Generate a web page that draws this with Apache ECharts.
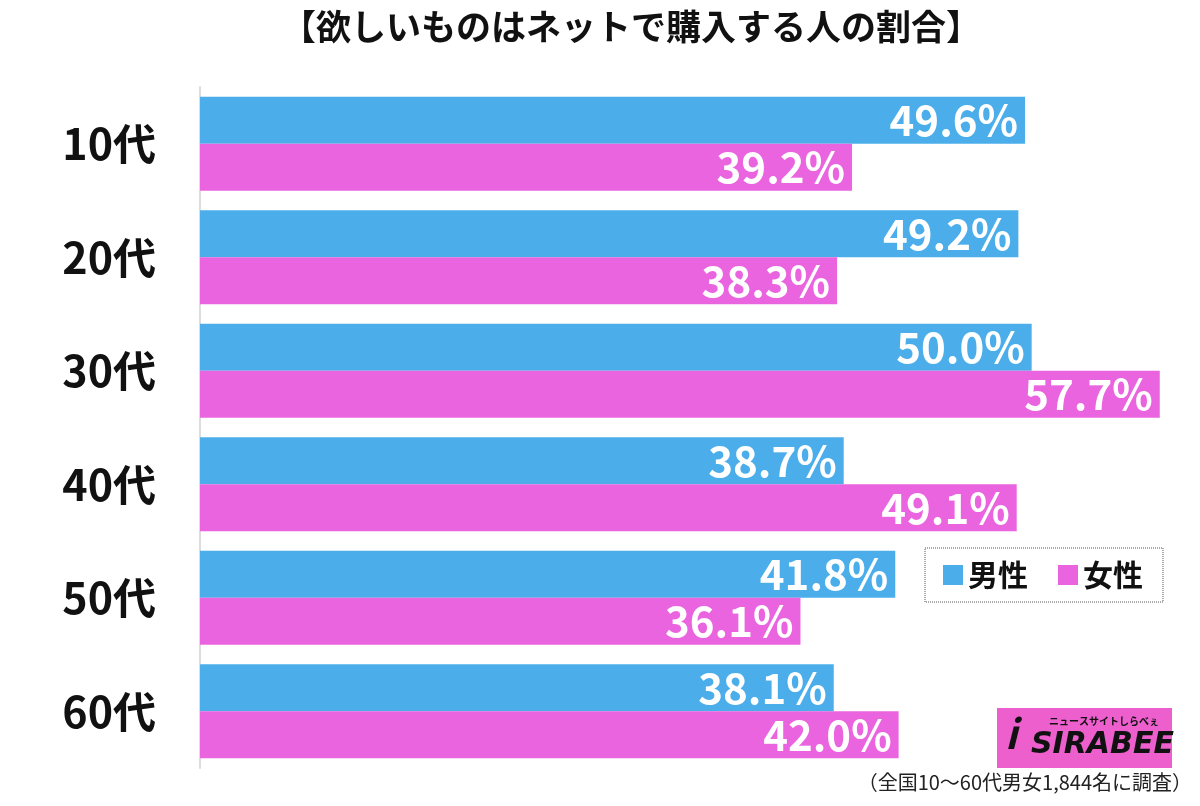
<!DOCTYPE html>
<html><head><meta charset="utf-8">
<script src="https://cdn.jsdelivr.net/npm/echarts@6/dist/echarts.min.js"></script>
<style>html,body{margin:0;padding:0;background:#fff}#c{width:1200px;height:806px}</style>
</head><body><div id="c"></div>
<script>
const categories = ['10代','20代','30代','40代','50代','60代'];
const male = [49.6, 49.2, 50.0, 38.7, 41.8, 38.1];
const female = [39.2, 38.3, 57.7, 49.1, 36.1, 42.0];
const seriesNames = ['男性','女性'];
const titleText = '【欲しいものはネットで購入する人の割合】';
const noteText = '（全国10〜60代男女1,844名に調査）';

const FONT = '"Noto Sans CJK JP", sans-serif';
const chart = echarts.init(document.getElementById('c'));
const lbl = {
  show: true, position: 'insideRight', distance: 7,
  color: '#fff', fontSize: 42, fontWeight: 'bold', fontFamily: FONT,
  formatter: p => p.value.toFixed(1) + '%'
};
chart.setOption({
  animation: false,
  title: {text: titleText, left: 276, top: 4,
    textStyle: {fontSize: 35, fontWeight: 'bold', color: '#111', fontFamily: FONT}},
  legend: {
    data: seriesNames, right: 37, top: 548, itemWidth: 20, itemHeight: 20, itemGap: 30,
    icon: 'rect',
    padding: [12, 20, 12, 18],
    borderColor: '#555', borderWidth: 1, borderType: 'dotted',
    textStyle: {fontSize: 30, fontWeight: 'bold', color: '#111', fontFamily: FONT}
  },
  grid: {left: 200, top: 87, width: 998, height: 681},
  xAxis: {type: 'value', min: 0, max: 60, show: false},
  yAxis: {type: 'category', data: categories, inverse: true,
    axisLine: {show: true, lineStyle: {color: '#ddd', width: 2}},
    axisTick: {show: false},
    axisLabel: {margin: 44, fontSize: 43, fontWeight: 'bold', color: '#111', fontFamily: FONT}},
  series: [
    {name: seriesNames[0], type: 'bar', data: male, barGap: '0%', barCategoryGap: '17%',
      itemStyle: {color: '#4baeea'}, label: lbl},
    {name: seriesNames[1], type: 'bar', data: female,
      itemStyle: {color: '#ea63df'}, label: lbl}
  ],
  graphic: [
    {type: 'text', right: 8, top: 772,
      style: {text: noteText, fontSize: 20, fill: '#222', fontFamily: FONT}},
    {type: 'group', left: 997, top: 708, children: [
      {type: 'rect', shape: {x: 0, y: 0, width: 175, height: 60}, style: {fill: '#ec5fcd'}},
      {type: 'text', left: 52, top: 8, style: {text: 'ニュースサイトしらべぇ', fontSize: 10, fontWeight: 'bold', fill: '#111', fontFamily: FONT}},
      {type: 'text', left: 8, top: 6, style: {text: 'i', fontSize: 40, fontWeight: 'bold', fontStyle: 'italic', fill: '#111', fontFamily: FONT}},
      {type: 'text', left: 34, top: 22, style: {text: 'SIRABEE', fontSize: 30, fontWeight: 900, fontStyle: 'italic', fill: '#111', fontFamily: '"DejaVu Sans", sans-serif'}}
    ]}
  ]
});
</script></body></html>
